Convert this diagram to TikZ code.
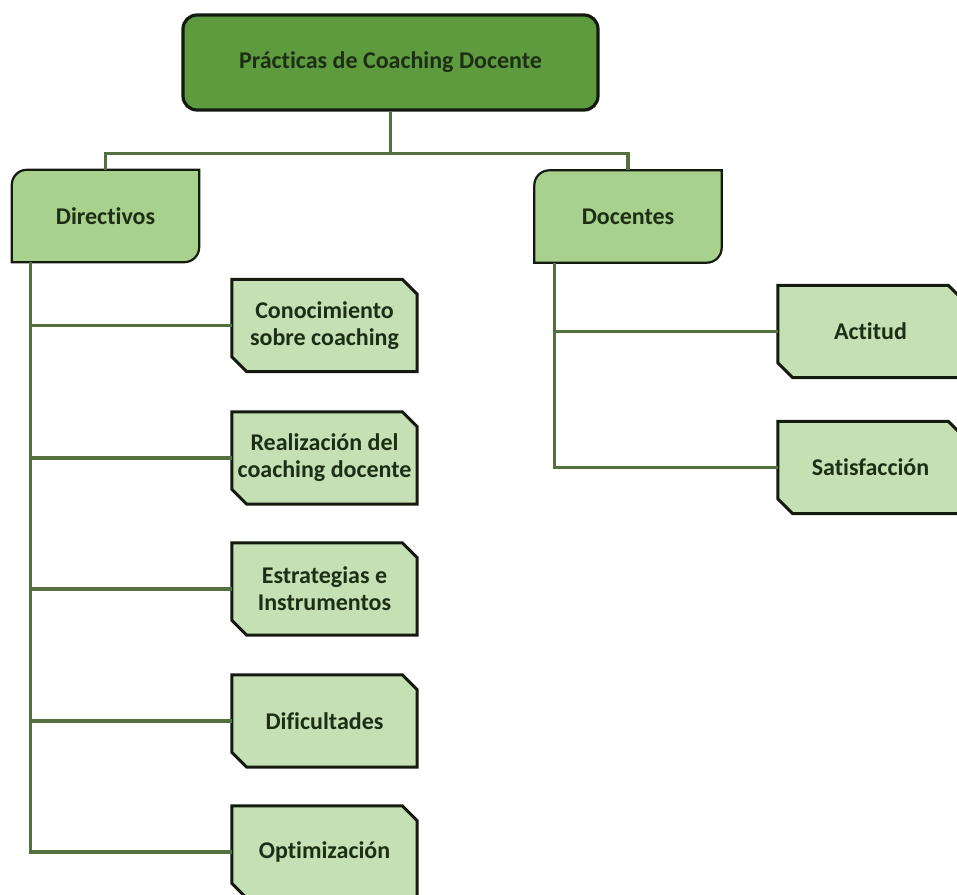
\documentclass[tikz,border=0pt]{standalone}
\usepackage{fontspec}
\setmainfont{Carlito}[RawFeature=-liga]
\usetikzlibrary{backgrounds}
\definecolor{rootfill}{HTML}{5E9B3F}
\definecolor{midfill}{HTML}{A9D18E}
\definecolor{leaffill}{HTML}{C5E0B4}
\definecolor{linkcol}{HTML}{55703F}
\definecolor{txtcol}{HTML}{1C2E14}
\definecolor{edgecol}{HTML}{141A10}
\tikzset{
  txt/.style={text=txtcol, font=\fontsize{24}{27}\selectfont\bfseries, align=center, inner sep=0pt},
  rootbox/.style={txt, draw=edgecol, line width=3.2pt, fill=rootfill, rounded corners=14pt, minimum width=415pt, minimum height=95pt},
  midbox/.style={txt, minimum width=187pt, minimum height=92pt},
  leafbox/.style={txt, minimum width=185pt, minimum height=92pt},
  midshape/.style={draw=edgecol, line width=2.2pt, fill=midfill},
  leafshape/.style={draw=edgecol, line width=3pt, fill=leaffill},
  link/.style={draw=linkcol, line width=3.2pt}
}
\newcommand{\midoutline}[1]{%
  \path[midshape] (#1.north east) -- ([yshift=15pt]#1.south east)
    arc[start angle=0, end angle=-90, radius=15pt] -- (#1.south west)
    -- ([yshift=-15pt]#1.north west) arc[start angle=180, end angle=90, radius=15pt] -- cycle;}
\newcommand{\leafoutline}[1]{%
  \path[leafshape] (#1.north west) -- ([xshift=-15pt]#1.north east) -- ([yshift=-15pt]#1.north east)
    -- (#1.south east) -- ([xshift=15pt]#1.south west) -- ([yshift=15pt]#1.south west) -- cycle;}
\begin{document}
\begin{tikzpicture}[x=1pt,y=1pt]
\useasboundingbox (0,0) rectangle (957,-894);
% nodes
\node[rootbox] (root) at (390.5,-62.5) {Prácticas de Coaching Docente};
\node[midbox] (dir) at (105.5,-216) {Directivos};
\node[midbox] (doc) at (628,-216.5) {Docentes};
\node[leafbox] (c1) at (324.5,-325.5) {Conocimiento\\sobre coaching};
\node[leafbox] (c2) at (324.5,-458) {Realización del\\coaching docente};
\node[leafbox] (c3) at (324.5,-589) {Estrategias e\\Instrumentos};
\node[leafbox] (c4) at (324.5,-721) {Dificultades};
\node[leafbox] (c5) at (324.5,-852) {Optimización};
\node[leafbox] (d1) at (870.5,-331.5) {Actitud};
\node[leafbox] (d2) at (870.5,-467.5) {Satisfacción};
\begin{scope}[on background layer]
  \midoutline{dir}
  \midoutline{doc}
  \foreach \n in {c1,c2,c3,c4,c5,d1,d2} {\leafoutline{\n}}
  % connectors
  \draw[link] (root.south) -- ++(0,-42) coordinate (hub);
  \draw[link] (dir.north) |- (hub) -| (doc.north);
  \coordinate (lt) at ([xshift=19pt]dir.south west);
  \coordinate (rt) at ([xshift=20pt]doc.south west);
  \draw[link] (lt) |- (c5.west);
  \foreach \n in {c1,c2,c3,c4} {\draw[link] (\n.west) -- (\n.west -| lt);}
  \draw[link] (rt) |- (d2.west);
  \draw[link] (d1.west) -- (d1.west -| rt);
\end{scope}
\end{tikzpicture}
\end{document}
